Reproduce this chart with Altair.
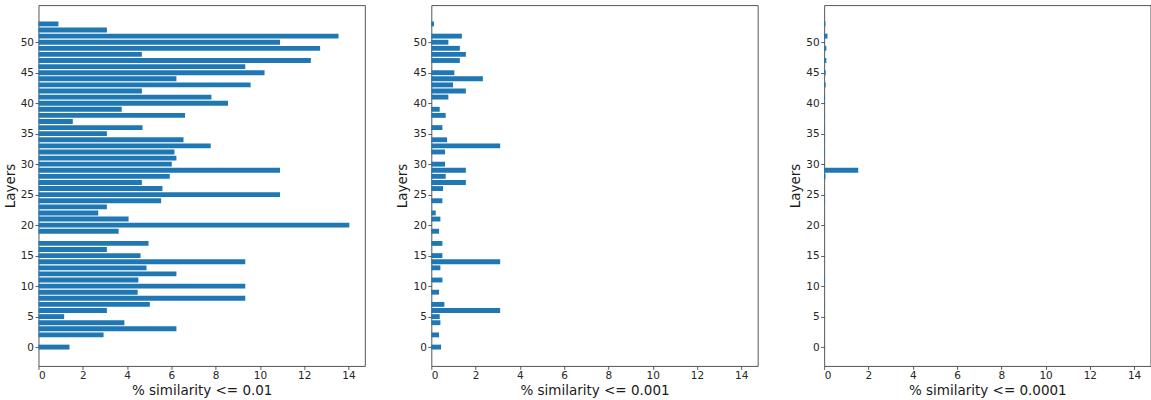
import altair as alt
import pandas as pd

layers = list(range(54))

sim_001 = [1.40, 0, 2.94, 6.23, 3.88, 1.16, 3.09, 5.03, 9.34, 4.48,
           9.34, 4.51, 6.23, 4.88, 9.34, 4.61, 3.09, 4.97, 0, 3.62,
           14.04, 4.07, 2.70, 3.09, 5.54, 10.91, 5.60, 4.67, 5.93, 10.91,
           6.02, 6.23, 6.14, 7.78, 6.55, 3.09, 4.70, 1.55, 6.62, 3.76,
           8.56, 7.81, 4.67, 9.58, 6.23, 10.21, 9.34, 12.30, 4.67, 12.72,
           10.91, 13.55, 3.09, 0.90]

sim_0001 = [0.44, 0, 0.35, 0, 0.41, 0.38, 3.11, 0.59, 0, 0.35,
            0, 0.50, 0, 0.41, 3.11, 0.50, 0, 0.50, 0, 0.35,
            0, 0.41, 0.20, 0, 0.50, 0, 0.53, 1.56, 0.65, 1.56,
            0.62, 0, 0.62, 3.11, 0.71, 0, 0.50, 0, 0.65, 0.38,
            0, 0.77, 1.56, 0.98, 2.33, 1.04, 0, 1.29, 1.56, 1.29,
            0.77, 1.38, 0, 0.12]

sim_00001 = [0, 0, 0, 0, 0, 0, 0, 0.03, 0, 0,
             0, 0.03, 0, 0, 0, 0, 0, 0, 0, 0,
             0, 0, 0, 0, 0.03, 0, 0, 0, 0.06, 1.54,
             0, 0, 0.03, 0, 0.03, 0, 0.03, 0, 0.03, 0,
             0, 0.04, 0, 0.07, 0, 0.07, 0, 0.10, 0, 0.10,
             0, 0.15, 0, 0.06]

titles = ["% similarity <= 0.01", "% similarity <= 0.001", "% similarity <= 0.0001"]
x_ticks = [0, 2, 4, 6, 8, 10, 12, 14]
y_ticks = [0, 5, 10, 15, 20, 25, 30, 35, 40, 45, 50]


def panel(vals, title):
    df = pd.DataFrame({"layer": layers, "value": vals})
    return (
        alt.Chart(df)
        .transform_calculate(lo="datum.layer - 0.4", hi="datum.layer + 0.4", zero="0")
        .mark_rect(color="#1f77b4")
        .encode(
            x=alt.X("zero:Q",
                    scale=alt.Scale(domain=[0, 14.74], nice=False, zero=False),
                    axis=alt.Axis(values=x_ticks, title=title)),
            x2="value:Q",
            y=alt.Y("lo:Q",
                    scale=alt.Scale(domain=[-3.09, 56.09], nice=False, zero=False),
                    axis=alt.Axis(values=y_ticks, title="Layers")),
            y2="hi:Q",
        )
        .properties(width=326.5, height=361)
    )


chart = (
    alt.hconcat(*[panel(v, t) for v, t in zip([sim_001, sim_0001, sim_00001], titles)],
                spacing=66, bounds="flush")
    .properties(padding={"left": 2.5, "top": 4, "right": 0, "bottom": 0})
    .configure_view(stroke="#555555", strokeWidth=1)
    .configure_axis(
        grid=False, domain=False, tickColor="#333333", tickSize=3.5, tickWidth=0.8,
        labelFont="DejaVu Sans", labelFontSize=10.5, labelColor="#262626", labelPadding=1.5,
        titleFont="DejaVu Sans", titleFontSize=13.5, titleFontWeight="normal",
        titleColor="#1a1a1a",
    )
    .configure_axisX(titlePadding=2)
    .configure_axisY(titlePadding=3)
)

chart.save("out.html", embed_options={"renderer": "svg", "actions": False})
